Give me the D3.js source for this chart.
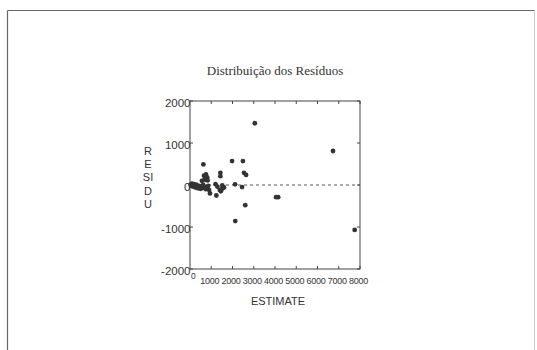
<!DOCTYPE html>
<html>
<head>
<meta charset="utf-8">
<script src="https://cdn.jsdelivr.net/npm/d3@7"></script>
<style>
  body { margin: 0; background: #fff; }
  svg { display: block; }
</style>
</head>
<body>
<svg id="chart" width="537" height="350"></svg>
<script>
// Chart title and axis labels
const chartTitle = 'Distribuição dos Resíduos';
const xTitle = 'ESTIMATE';
const yTitleParts = ['R', 'E', 'SI', 'D', 'U'];

// Tick values
const xTicks = [1000, 2000, 3000, 4000, 5000, 6000, 7000, 8000];
const yTicks = [2000, 1000, 0, -1000, -2000];

// Points (estimate, residual)
const estimates = [
    30, 60, 90, 120, 150, 180, 220, 260, 300, 340, 380, 420, 460, 500, 540, 580, 620, 680, 740, 800, 860,
    560, 660, 750, 810, 680, 830, 630, 900,
    940, 1240, 1290, 1400, 1450, 1510, 1520, 1430, 1430, 1200, 1600,
    1980, 2120, 2130, 2450, 2490, 2540, 2640, 2600, 3050, 4050, 4150, 6730, 7750
];
const residuals = [
    10, -20, 30, 0, -40, 20, -10, -60, 10, -30, -80, -20, -50, -90, -30, -70, 0, -40, -100, -60, -20,
    100, 220, 250, 180, 120, 110, 490, -120,
    -200, -250, -40, -120, -150, -90, -10, 290, 210, 20, -60,
    570, 15, -860, -50, 570, 290, 240, -480, 1470, -290, -290, 810, -1070
];

const svg = d3.select('#chart');

// Page frame
svg.append('line').attr('x1', 7.5).attr('y1', 10.5).attr('x2', 534.5).attr('y2', 10.5)
    .attr('stroke', '#666').attr('stroke-width', 1.2);
svg.append('line').attr('x1', 7.5).attr('y1', 10.5).attr('x2', 7.5).attr('y2', 350)
    .attr('stroke', '#666').attr('stroke-width', 1.2);
svg.append('line').attr('x1', 534.5).attr('y1', 10.5).attr('x2', 534.5).attr('y2', 350)
    .attr('stroke', '#ccc').attr('stroke-width', 1);

// Scales
const x = d3.scaleLinear().domain([0, 8000]).range([190, 360]);
const y = d3.scaleLinear().domain([-2000, 2000]).range([269, 101]);

const axisColor = '#444';

// Title
svg.append('text')
    .attr('x', 275).attr('y', 75)
    .attr('text-anchor', 'middle')
    .style('font-family', '"Liberation Serif", "Times New Roman", serif')
    .style('font-size', '13px')
    .style('fill', '#333')
    .text(chartTitle);

// Frame of plot area
svg.append('rect')
    .attr('x', x(0)).attr('y', y(2000))
    .attr('width', x(8000) - x(0)).attr('height', y(-2000) - y(2000))
    .attr('fill', 'none').attr('stroke', axisColor).attr('stroke-width', 1);

// Inward ticks on all four sides
const tickLen = 3;
const tickGroup = svg.append('g').attr('stroke', axisColor).attr('stroke-width', 1);
xTicks.forEach((t) => {
    tickGroup.append('line').attr('x1', x(t)).attr('x2', x(t))
        .attr('y1', y(2000)).attr('y2', y(2000) + tickLen);
    tickGroup.append('line').attr('x1', x(t)).attr('x2', x(t))
        .attr('y1', y(-2000)).attr('y2', y(-2000) - tickLen);
});
yTicks.forEach((t) => {
    tickGroup.append('line').attr('x1', x(0)).attr('x2', x(0) + tickLen)
        .attr('y1', y(t)).attr('y2', y(t));
    tickGroup.append('line').attr('x1', x(8000)).attr('x2', x(8000) - tickLen)
        .attr('y1', y(t)).attr('y2', y(t));
});

// Zero reference line
svg.append('line')
    .attr('x1', x(0)).attr('x2', x(8000))
    .attr('y1', y(0)).attr('y2', y(0))
    .attr('stroke', '#555').attr('stroke-width', 1)
    .attr('stroke-dasharray', '3,3');

// Y tick labels
svg.append('g').selectAll('text')
    .data(yTicks)
    .join('text')
    .attr('x', x(0) + 0.5)
    .attr('y', (d) => y(d) + 5.5)
    .attr('text-anchor', 'end')
    .style('font-family', '"Liberation Sans", Arial, sans-serif')
    .style('font-size', '11.5px')
    .style('fill', '#333')
    .text((d) => d);

// X tick labels
svg.append('g').selectAll('text')
    .data(xTicks)
    .join('text')
    .attr('x', (d) => x(d) - 1.5)
    .attr('y', 284)
    .attr('text-anchor', 'middle')
    .style('font-family', '"Liberation Sans", Arial, sans-serif')
    .style('font-size', '9px')
    .style('letter-spacing', '-0.2px')
    .style('fill', '#333')
    .text((d) => d);

svg.append('text')
    .attr('x', x(0) + 1).attr('y', 279)
    .attr('text-anchor', 'start')
    .style('font-family', '"Liberation Sans", Arial, sans-serif')
    .style('font-size', '8.5px')
    .style('fill', '#333')
    .text('0');

// Axis titles
svg.append('text')
    .attr('x', 278).attr('y', 305)
    .attr('text-anchor', 'middle')
    .style('font-family', '"Liberation Sans", Arial, sans-serif')
    .style('font-size', '11px')
    .style('fill', '#333')
    .text(xTitle);

svg.append('g').selectAll('text')
    .data(yTitleParts)
    .join('text')
    .attr('x', 148)
    .attr('y', (d, i) => 155 + i * 13.2)
    .attr('text-anchor', 'middle')
    .style('font-family', '"Liberation Sans", Arial, sans-serif')
    .style('font-size', '11px')
    .style('fill', '#333')
    .text((d) => d);

// Points
svg.append('g').selectAll('circle')
    .data(estimates.map((e, i) => [e, residuals[i]]))
    .join('circle')
    .attr('cx', (d) => x(d[0]))
    .attr('cy', (d) => y(d[1]))
    .attr('r', 2.4)
    .attr('fill', '#333');
</script>
</body>
</html>
